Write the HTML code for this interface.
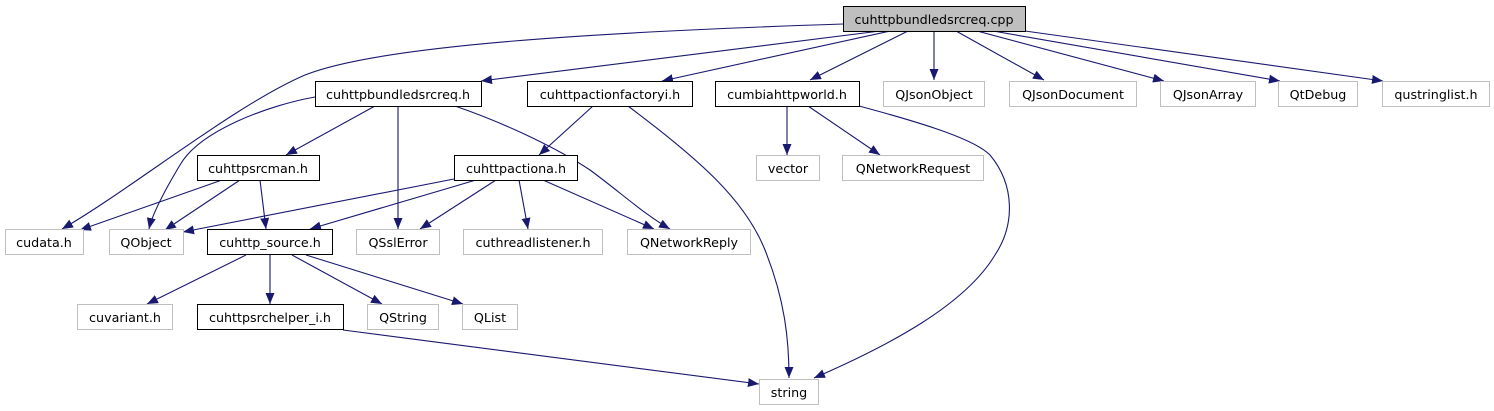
<!DOCTYPE html>
<html><head><meta charset="utf-8"><style>
html,body{margin:0;padding:0;background:#fff;}
svg{display:block;}
text{font-family:"DejaVu Sans","Liberation Sans",sans-serif;font-size:12.7px;fill:#000;}
</style></head><body>
<svg width="1494" height="411" viewBox="0 0 1494 411" xmlns="http://www.w3.org/2000/svg">
<defs>
<marker id="a" markerUnits="userSpaceOnUse" markerWidth="12" markerHeight="10" refX="11" refY="4.5" orient="auto">
<path d="M0,0 L11,4.5 L0,9 Z" fill="#191970"/>
</marker>
</defs>
<g fill="none" stroke="#191970" stroke-width="1.1" marker-end="url(#a)">
<path d="M843,24 C600,32 380,45 305,75 C235,105 130,190 62,229"/>
<path d="M880,31 L481,81"/>
<path d="M890,31 L662,81"/>
<path d="M908,31 L810,80"/>
<path d="M934,31 L934,80"/>
<path d="M956,31 L1044,80"/>
<path d="M977,31 L1164,81"/>
<path d="M993,31 L1280,81"/>
<path d="M1025,31 L1383,81"/>
<path d="M315,97 C270,105 200,130 180,165 C162,195 152,215 149,229"/>
<path d="M375,106 L286,155"/>
<path d="M398,106 L398,229"/>
<path d="M455,106 C510,125 560,150 590,170 C620,192 645,215 670,229"/>
<path d="M593,106 L539,155"/>
<path d="M628,106 C700,160 745,200 765,250 C785,300 789,340 789,378"/>
<path d="M787,106 L787,155"/>
<path d="M808,106 L880,155"/>
<path d="M859,106 C930,125 975,140 990,155 C1015,185 1015,225 995,255 C965,305 890,345 814,378"/>
<path d="M222,180 L80,230"/>
<path d="M240,180 L165,230"/>
<path d="M260,180 L266,229"/>
<path d="M454,179 L183,232"/>
<path d="M476,180 L310,229"/>
<path d="M496,180 L420,229"/>
<path d="M519,180 L528,229"/>
<path d="M543,180 L654,229"/>
<path d="M246,255 L147,304"/>
<path d="M270,255 L270,304"/>
<path d="M292,255 L382,304"/>
<path d="M306,255 L463,304"/>
<path d="M343,330 L759,384"/>
</g>
<g stroke-width="1">
<rect x="843.5" y="6.5" width="182" height="25" fill="#bfbfbf" stroke="#000"/>
<rect x="315.5" y="81.5" width="166" height="25" fill="#fff" stroke="#000"/>
<rect x="527.5" y="81.5" width="165" height="25" fill="#fff" stroke="#000"/>
<rect x="715.5" y="81.5" width="144" height="25" fill="#fff" stroke="#000"/>
<rect x="883.5" y="81.5" width="101" height="25" fill="#fff" stroke="#bfbfbf"/>
<rect x="1009.5" y="81.5" width="127" height="25" fill="#fff" stroke="#bfbfbf"/>
<rect x="1160.5" y="81.5" width="95" height="25" fill="#fff" stroke="#bfbfbf"/>
<rect x="1278.5" y="81.5" width="79" height="25" fill="#fff" stroke="#bfbfbf"/>
<rect x="1382.5" y="81.5" width="107" height="25" fill="#fff" stroke="#bfbfbf"/>
<rect x="197.5" y="155.5" width="122" height="25" fill="#fff" stroke="#000"/>
<rect x="454.5" y="155.5" width="123" height="25" fill="#fff" stroke="#000"/>
<rect x="756.5" y="155.5" width="63" height="25" fill="#fff" stroke="#bfbfbf"/>
<rect x="842.5" y="155.5" width="141" height="25" fill="#fff" stroke="#bfbfbf"/>
<rect x="5.5" y="229.5" width="78" height="25" fill="#fff" stroke="#bfbfbf"/>
<rect x="109.5" y="229.5" width="74" height="25" fill="#fff" stroke="#bfbfbf"/>
<rect x="207.5" y="229.5" width="125" height="25" fill="#fff" stroke="#000"/>
<rect x="356.5" y="229.5" width="83" height="25" fill="#fff" stroke="#bfbfbf"/>
<rect x="463.5" y="229.5" width="139" height="25" fill="#fff" stroke="#bfbfbf"/>
<rect x="627.5" y="229.5" width="123" height="25" fill="#fff" stroke="#bfbfbf"/>
<rect x="77.5" y="304.5" width="95" height="25" fill="#fff" stroke="#bfbfbf"/>
<rect x="197.5" y="304.5" width="146" height="25" fill="#fff" stroke="#000"/>
<rect x="367.5" y="304.5" width="71" height="25" fill="#fff" stroke="#bfbfbf"/>
<rect x="462.5" y="304.5" width="55" height="25" fill="#fff" stroke="#bfbfbf"/>
<rect x="759.5" y="379.5" width="59" height="25" fill="#fff" stroke="#bfbfbf"/>
</g>
<g text-anchor="middle">
<text x="934" y="24">cuhttpbundledsrcreq.cpp</text>
<text x="398" y="99">cuhttpbundledsrcreq.h</text>
<text x="610" y="99">cuhttpactionfactoryi.h</text>
<text x="787" y="99">cumbiahttpworld.h</text>
<text x="934" y="99">QJsonObject</text>
<text x="1073" y="99">QJsonDocument</text>
<text x="1208" y="99">QJsonArray</text>
<text x="1318" y="99">QtDebug</text>
<text x="1436" y="99">qustringlist.h</text>
<text x="258" y="173">cuhttpsrcman.h</text>
<text x="516" y="173">cuhttpactiona.h</text>
<text x="788" y="173">vector</text>
<text x="913" y="173">QNetworkRequest</text>
<text x="44" y="247">cudata.h</text>
<text x="146" y="247">QObject</text>
<text x="270" y="247">cuhttp_source.h</text>
<text x="398" y="247">QSslError</text>
<text x="533" y="247">cuthreadlistener.h</text>
<text x="689" y="247">QNetworkReply</text>
<text x="125" y="322">cuvariant.h</text>
<text x="270" y="322">cuhttpsrchelper_i.h</text>
<text x="403" y="322">QString</text>
<text x="490" y="322">QList</text>
<text x="789" y="397">string</text>
</g>
</svg>
</body></html>
